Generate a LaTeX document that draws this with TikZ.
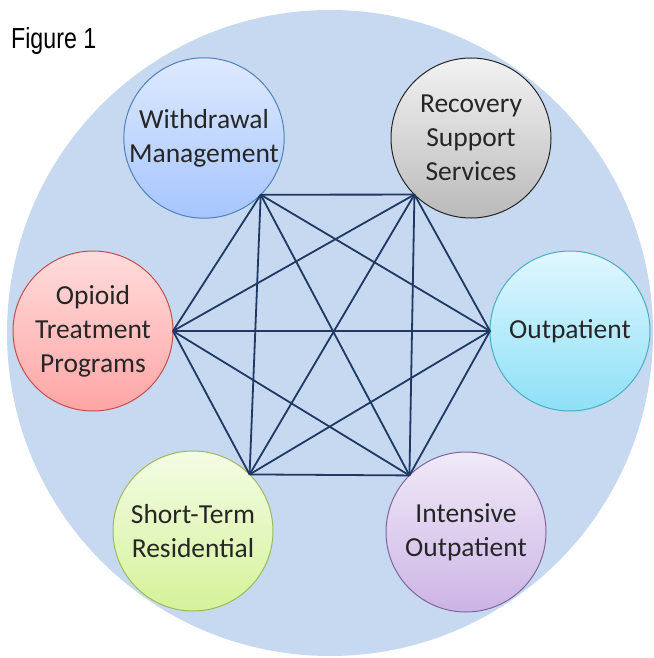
\documentclass[tikz,border=0pt]{standalone}
\usepackage{fontspec}
\setmainfont{Carlito}
\newfontfamily\figfont{Liberation Sans}

\definecolor{fieldblue}{HTML}{C6D9F0}
\definecolor{linkblue}{HTML}{1F3864}

\begin{document}
\begin{tikzpicture}[x=1pt,y=-1pt,
    stage/.style={circle,draw,line width=1pt,minimum size=160pt,inner sep=0pt,
      outer sep=0pt,align=center,text=black!85,
      font=\fontsize{27.5}{34}\selectfont}]
      \useasboundingbox (0,0) rectangle (653,658);
      \fill[fieldblue] (330,333) circle (323pt);
      \node[anchor=base west,inner sep=0pt,xscale=0.8,font=\figfont\fontsize{29}{31}\selectfont]
        (fig) at (11,49) {Figure 1};
      \path
        (204,138) node[stage,draw={rgb,255:red,79;green,129;blue,189},top color={rgb,255:red,222;green,234;blue,255},bottom color={rgb,255:red,166;green,197;blue,255}] (wm){Withdrawal\\Management}
        (471,138) node[stage,draw=black!85,top color=black!5,bottom color=black!27] (rss){Recovery\\Support\\Services}
        (93,331) node[stage,draw={rgb,255:red,192;green,80;blue,77},top color={rgb,255:red,255;green,220;blue,220},bottom color={rgb,255:red,255;green,165;blue,165}] (otp){Opioid\\Treatment\\Programs}
        (570,331) node[stage,draw={rgb,255:red,75;green,172;blue,198},top color={rgb,255:red,224;green,247;blue,255},bottom color={rgb,255:red,142;green,224;blue,247}] (out){Outpatient}
        (193,531) node[stage,draw={rgb,255:red,155;green,187;blue,89},top color={rgb,255:red,244;green,252;blue,228},bottom color={rgb,255:red,213;green,242;blue,154}] (str){Short-Term\\Residential}
        (466,532) node[stage,draw={rgb,255:red,128;green,100;blue,162},top color={rgb,255:red,240;green,234;blue,248},bottom color={rgb,255:red,204;green,180;blue,229}] (iop){Intensive\\Outpatient};
      \begin{scope}[draw=linkblue,line width=1.8pt]
        \draw (wm.south east) to (rss.south west);
        \draw (wm.south east) to (otp.east);
        \draw (wm.south east) to (out.west);
        \draw (wm.south east) to (str.north east);
        \draw (wm.south east) to (iop.north west);
        \draw (rss.south west) to (otp.east);
        \draw (rss.south west) to (out.west);
        \draw (rss.south west) to (str.north east);
        \draw (rss.south west) to (iop.north west);
        \draw (otp.east) to (out.west);
        \draw (otp.east) to (str.north east);
        \draw (otp.east) to (iop.north west);
        \draw (out.west) to (str.north east);
        \draw (out.west) to (iop.north west);
        \draw (str.north east) to (iop.north west);
      \end{scope}
    \end{tikzpicture}
\end{document}
